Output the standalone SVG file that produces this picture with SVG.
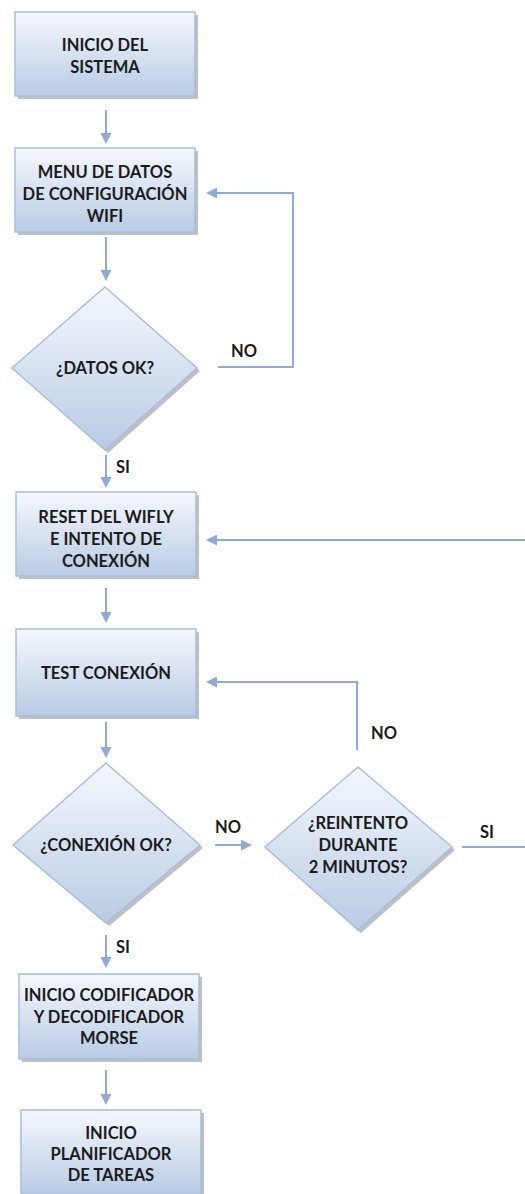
<svg xmlns="http://www.w3.org/2000/svg" width="525" height="1194" viewBox="0 0 525 1194">
<style>
.box{fill:url(#g);stroke:#a7bfdd;stroke-width:1.5}
.sh{fill:#8a8a8a;opacity:0.55}
.t{font-family:Lato,"Liberation Sans",sans-serif;font-weight:bold;font-size:16.5px;fill:#1b1b1b;text-anchor:middle}
.lbl{font-family:Lato,"Liberation Sans",sans-serif;font-weight:bold;font-size:16.5px;fill:#1b1b1b}
.c{fill:none;stroke:#8faad6;stroke-width:2}
</style>
<defs>
<linearGradient id="g" x1="0" y1="0" x2="0" y2="1">
<stop offset="0" stop-color="#f5f8fc"/>
<stop offset="1" stop-color="#b8cbe4"/>
</linearGradient>
<marker id="a" markerWidth="11" markerHeight="11" refX="9" refY="5.5" orient="auto" markerUnits="userSpaceOnUse">
<path d="M0,0 L11,5.5 L0,11 z" fill="#8faad6"/>
</marker>
</defs>
<g id="connectors">
<line class="c" x1="106" y1="110" x2="106" y2="142" marker-end="url(#a)"/>
<line class="c" x1="106" y1="237" x2="106" y2="279" marker-end="url(#a)"/>
<polyline class="c" points="218,367 293,367 293,193 208,193" marker-end="url(#a)"/>
<line class="c" x1="106" y1="455" x2="106" y2="486" marker-end="url(#a)"/>
<line class="c" x1="525" y1="540" x2="208" y2="540" marker-end="url(#a)"/>
<line class="c" x1="106" y1="588" x2="106" y2="621" marker-end="url(#a)"/>
<line class="c" x1="106" y1="722" x2="106" y2="756" marker-end="url(#a)"/>
<polyline class="c" points="357,750 357,682 208,682" marker-end="url(#a)"/>
<line class="c" x1="215" y1="845" x2="250" y2="845" marker-end="url(#a)"/>
<line class="c" x1="462" y1="847" x2="525" y2="847"/>
<line class="c" x1="106" y1="935" x2="106" y2="966" marker-end="url(#a)"/>
<line class="c" x1="106" y1="1070" x2="106" y2="1103" marker-end="url(#a)"/>
<text class="lbl" x="231" y="357">NO</text>
<text class="lbl" x="116" y="473">SI</text>
<text class="lbl" x="371" y="739">NO</text>
<text class="lbl" x="215" y="833">NO</text>
<text class="lbl" x="480" y="838">SI</text>
<text class="lbl" x="116" y="953">SI</text>
</g>
<g id="n1">
<rect class="sh" x="18" y="15" width="180" height="84"/>
<rect class="box" x="15" y="12" width="180" height="84"/>
<text class="t" x="105" y="51">INICIO DEL</text>
<text class="t" x="105" y="73">SISTEMA</text>
</g>
<g id="n2">
<rect class="sh" x="18" y="151" width="180" height="84"/>
<rect class="box" x="15" y="148" width="180" height="84"/>
<text class="t" x="105" y="178">MENU DE DATOS</text>
<text class="t" x="105" y="200">DE CONFIGURACIÓN</text>
<text class="t" x="105" y="222">WIFI</text>
</g>
<g id="n3">
<polygon class="sh" points="108,290 200,371 108,453 15,371"/>
<polygon class="box" points="105,287 197,368 105,450 12,368"/>
<text class="t" x="105" y="374">¿DATOS OK?</text>
</g>
<g id="n4">
<rect class="sh" x="19" y="495" width="180" height="84"/>
<rect class="box" x="16" y="492" width="180" height="84"/>
<text class="t" x="106" y="523">RESET DEL WIFLY</text>
<text class="t" x="106" y="545">E INTENTO DE</text>
<text class="t" x="106" y="567">CONEXIÓN</text>
</g>
<g id="n5">
<rect class="sh" x="19" y="632" width="180" height="87"/>
<rect class="box" x="16" y="629" width="180" height="87"/>
<text class="t" x="106" y="679">TEST CONEXIÓN</text>
</g>
<g id="n6">
<polygon class="sh" points="109,766 203,848 109,926 16,848"/>
<polygon class="box" points="106,763 200,845 106,923 13,845"/>
<text class="t" x="106" y="851">¿CONEXIÓN OK?</text>
</g>
<g id="n7">
<polygon class="sh" points="361,770 455,850 361,933 268,850"/>
<polygon class="box" points="358,767 452,847 358,930 265,847"/>
<text class="t" x="358" y="829">¿REINTENTO</text>
<text class="t" x="358" y="851">DURANTE</text>
<text class="t" x="358" y="873">2 MINUTOS?</text>
</g>
<g id="n8">
<rect class="sh" x="22" y="977" width="180" height="85"/>
<rect class="box" x="19" y="974" width="180" height="85"/>
<text class="t" x="109" y="1001">INICIO CODIFICADOR</text>
<text class="t" x="109" y="1023">Y DECODIFICADOR</text>
<text class="t" x="109" y="1044">MORSE</text>
</g>
<g id="n9">
<rect class="sh" x="24" y="1113" width="180" height="84"/>
<rect class="box" x="21" y="1110" width="180" height="84"/>
<text class="t" x="111" y="1139">INICIO</text>
<text class="t" x="111" y="1160">PLANIFICADOR</text>
<text class="t" x="111" y="1181">DE TAREAS</text>
</g>
</svg>
